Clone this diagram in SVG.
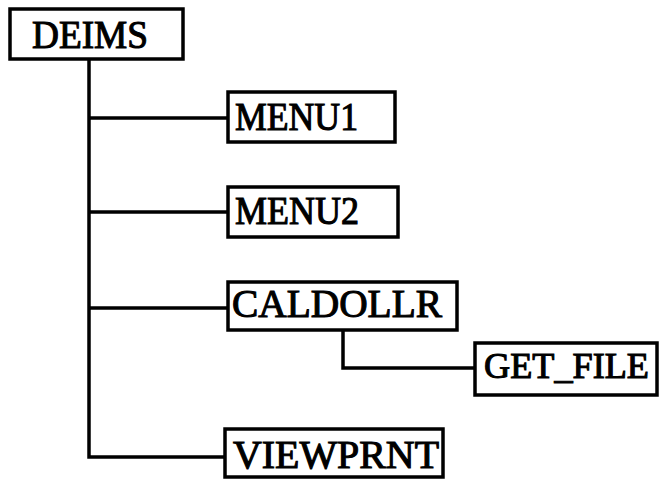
<svg xmlns="http://www.w3.org/2000/svg" width="660" height="479" viewBox="0 0 660 479">
<style>
.box{fill:#fff;stroke:#000;stroke-width:3.5}
.lbl{font-family:"Liberation Serif","Times New Roman",serif;font-size:39px;fill:#000;stroke:#000;stroke-width:1.1}
.con{fill:none;stroke:#000;stroke-width:3.5}
</style>
<rect width="660" height="479" fill="#fff"/>
<g id="connectors">
<path class="con" d="M89,59 V457 H225"/>
<path class="con" d="M89,118 H228"/>
<path class="con" d="M89,212 H228"/>
<path class="con" d="M89,308 H228"/>
<path class="con" d="M343,330 V368 H475"/>
</g>
<g id="DEIMS">
<rect class="box" x="10" y="9" width="173" height="50"/>
<text class="lbl" x="32" y="48" textLength="116" lengthAdjust="spacingAndGlyphs">DEIMS</text>
</g>
<g id="MENU1">
<rect class="box" x="228" y="92" width="167" height="50"/>
<text class="lbl" x="235" y="130" textLength="123" lengthAdjust="spacingAndGlyphs">MENU1</text>
</g>
<g id="MENU2">
<rect class="box" x="228" y="187" width="170" height="50"/>
<text class="lbl" x="235" y="224" textLength="124" lengthAdjust="spacingAndGlyphs">MENU2</text>
</g>
<g id="CALDOLLR">
<rect class="box" x="228" y="282" width="229" height="48"/>
<text class="lbl" x="232" y="317" textLength="210" lengthAdjust="spacingAndGlyphs">CALDOLLR</text>
</g>
<g id="GET_FILE">
<rect class="box" x="475" y="343" width="182" height="52"/>
<text class="lbl" x="484" y="378" style="font-size:36px" textLength="165" lengthAdjust="spacingAndGlyphs">GET_FILE</text>
</g>
<g id="VIEWPRNT">
<rect class="box" x="225" y="429" width="218" height="48"/>
<text class="lbl" x="233" y="468" textLength="206" lengthAdjust="spacingAndGlyphs">VIEWPRNT</text>
</g>
</svg>
